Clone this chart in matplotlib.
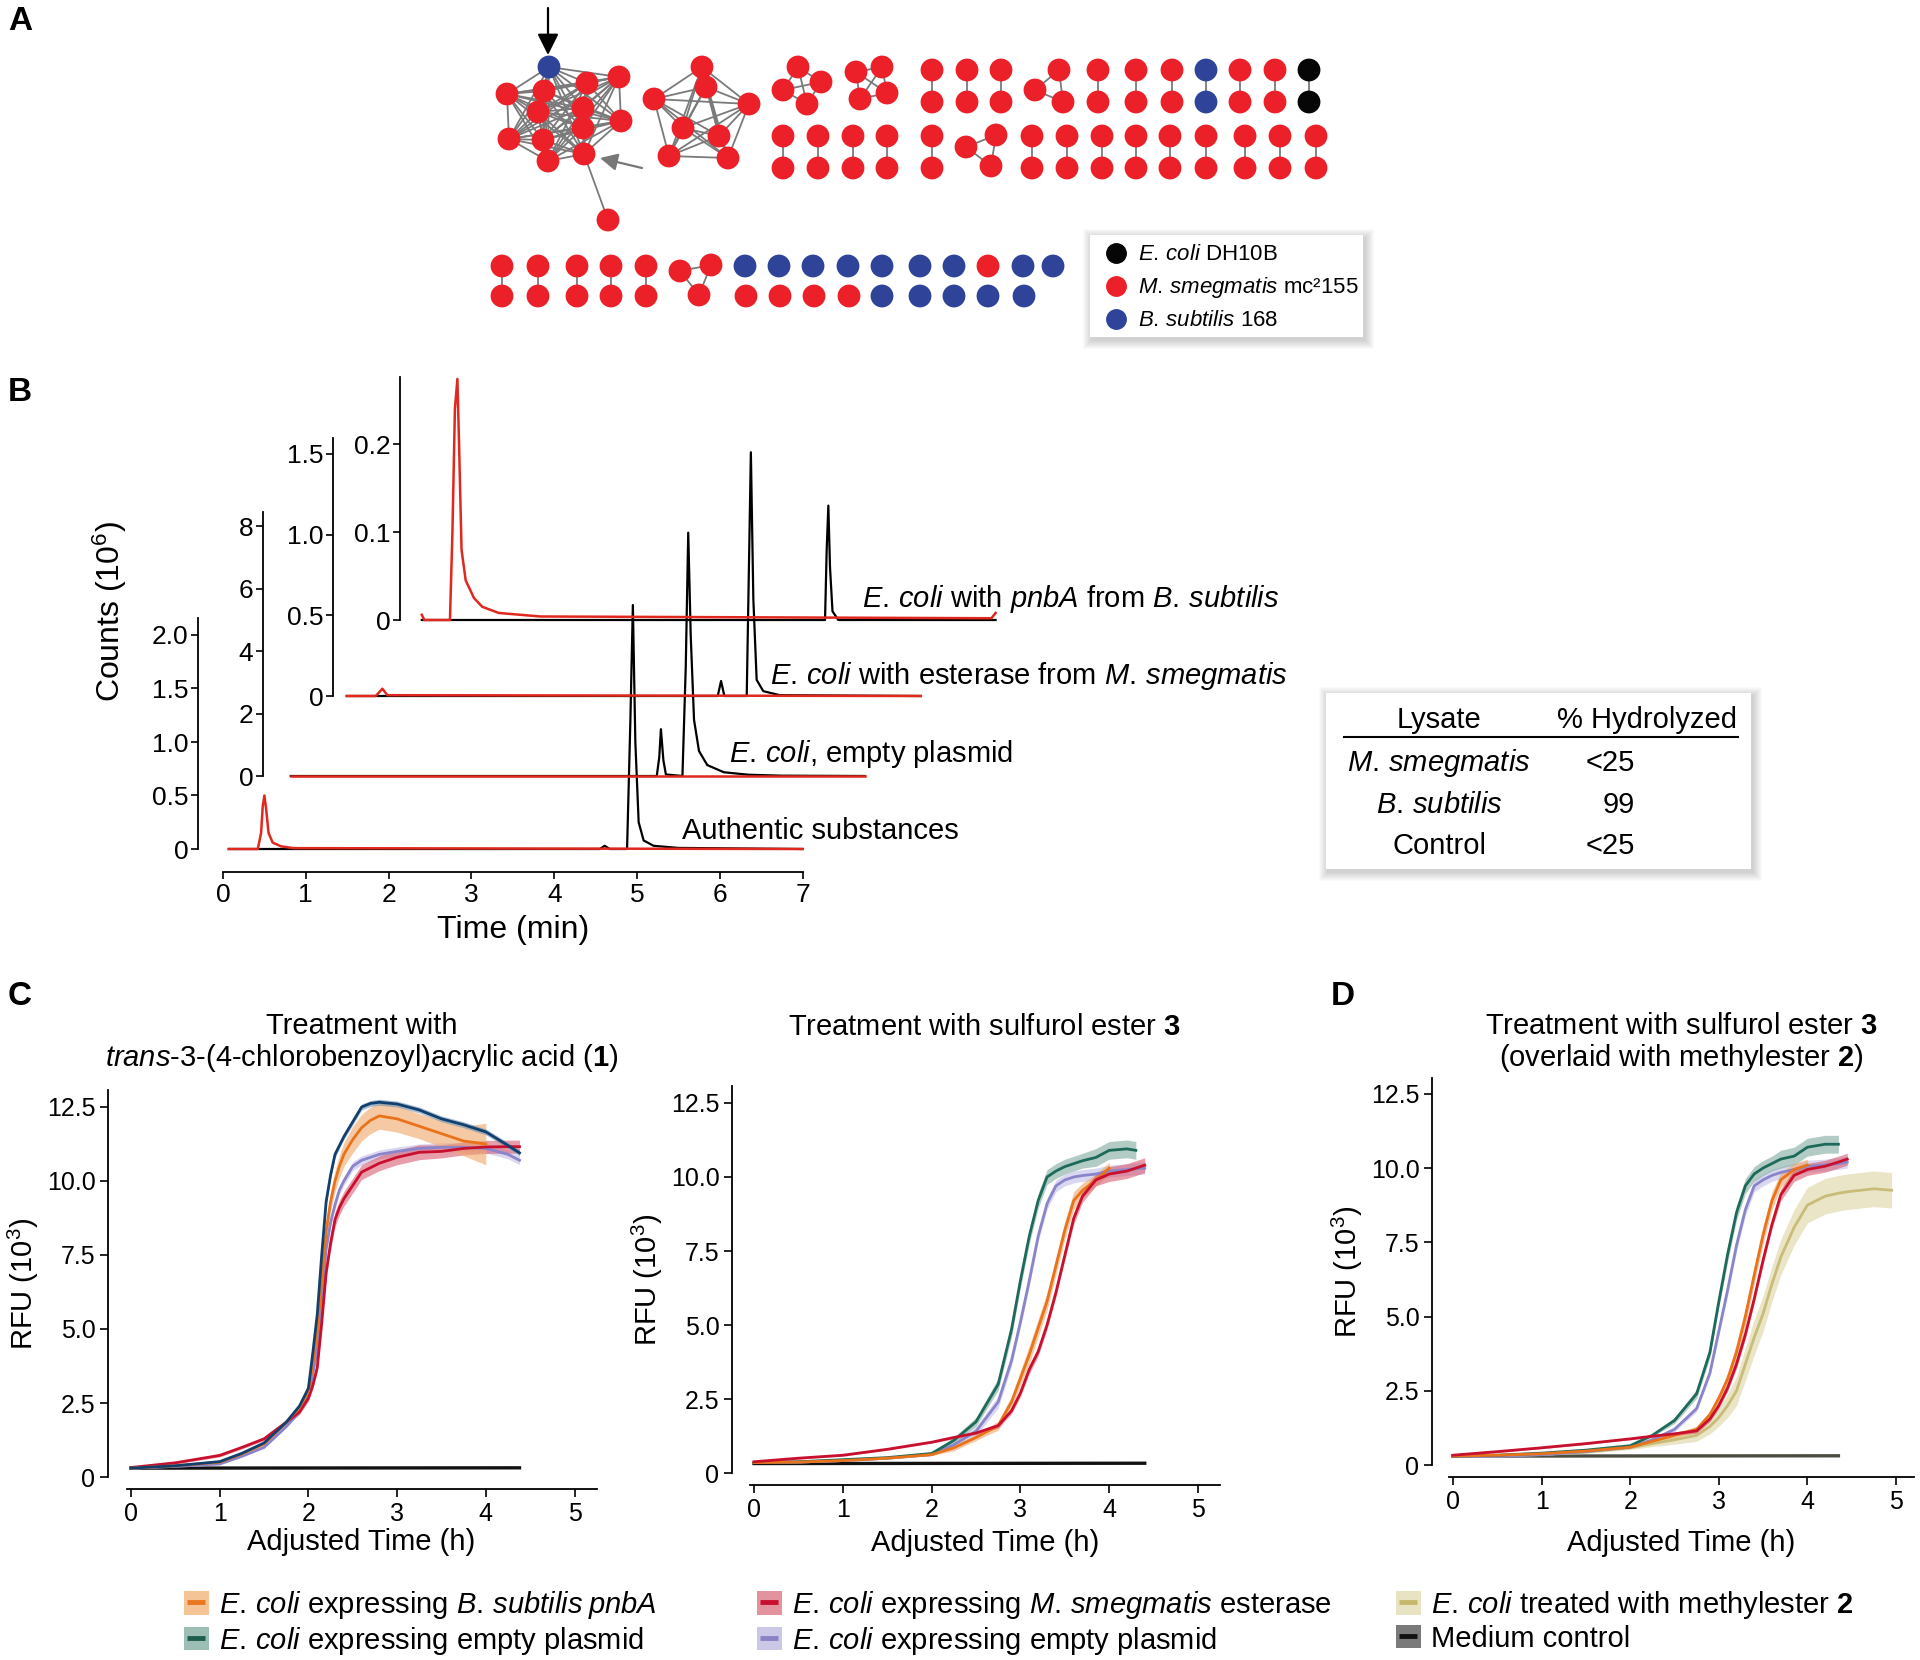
import matplotlib
matplotlib.use('Agg')
import matplotlib.pyplot as plt
import numpy as np
from itertools import combinations
from matplotlib.lines import Line2D
from matplotlib.patches import Patch, Rectangle
from matplotlib.collections import LineCollection

plt.rcParams['font.family'] = 'Liberation Sans'
plt.rcParams['mathtext.fontset'] = 'custom'
plt.rcParams['mathtext.rm'] = 'Liberation Sans'
plt.rcParams['mathtext.it'] = 'Liberation Sans:italic'
plt.rcParams['mathtext.bf'] = 'Liberation Sans:bold'
plt.rcParams['axes.linewidth'] = 1.3

# ---------------- panel A: similarity network (layout positions) ----------------
RED, BLUE, BLACK = '#EC2028', '#2F4499', '#060606'
ncol = {'r': RED, 'b': BLUE, 'k': BLACK}

big_nodes = [(549, 67), (507, 94), (544, 91), (587, 83), (619, 77), (538, 112), (583, 108),
             (621, 121), (583, 128), (509, 139), (543, 140), (548, 161), (584, 154)]
big_colors = 'brrrrrrrrrrrr'
pendant_node = (608, 220)
ring_nodes = [(702, 67), (706, 87), (654, 99), (749, 104), (683, 128), (719, 136), (669, 156), (728, 158)]
quad_nodes = [[(798, 67), (783, 90), (821, 82), (807, 104)],
              [(856, 72), (882, 67), (860, 99), (887, 93)]]
tri_nodes = [[(1059, 70), (1035, 90), (1063, 102)],
             [(996, 135), (966, 147), (991, 166)],
             [(680, 271), (711, 265), (699, 295)]]
pair_row1_x = [932, 967, 1001, 1098, 1136, 1172, 1206, 1240, 1275, 1309]
pair_row1_c = 'rrrrrrbrrk'
pair_row2_x = [783, 818, 853, 887, 932, 1032, 1067, 1102, 1136, 1170, 1206, 1245, 1280, 1316]
pair_row2_c = 'rrrrrrrrrrrrrr'
pair_row3_x = [502, 538, 577, 611, 646]
pair_row3_c = 'rrrrr'
pair_rows_y = [(70, 102), (136, 168), (266, 296)]
single_top_x = [745, 779, 813, 848, 882, 920, 954, 988, 1023, 1053]
single_top_c = 'bbbbbbbrbb'
single_bot_x = [746, 780, 814, 849, 882, 920, 954, 988, 1024]
single_bot_c = 'rrrrbbbbb'

# ---------------- panel B: chromatograms (time min, counts 1e6) ----------------
auth_black_t = [0.07, 4.55, 4.61, 4.67, 4.88, 4.92, 4.95, 4.98, 5.02, 5.08, 5.2, 5.5, 7.0]
auth_black_v = [0, 0, 0.03, 0, 0, 1.2, 2.28, 1.0, 0.25, 0.08, 0.03, 0.01, 0]
auth_red_t = [0.07, 0.42, 0.46, 0.48, 0.5, 0.52, 0.55, 0.6, 0.7, 0.85, 7.0]
auth_red_v = [0, 0, 0.15, 0.4, 0.5, 0.38, 0.15, 0.06, 0.025, 0.008, 0]
empty_black_t = [0.07, 4.49, 4.52, 4.54, 4.57, 4.6, 4.8, 4.84, 4.87, 4.9, 4.94, 5.0, 5.1, 5.3, 5.6, 6.0, 7.0]
empty_black_v = [0, 0, 0.6, 1.5, 0.5, 0.05, 0, 3.5, 7.8, 4.5, 1.8, 0.8, 0.35, 0.12, 0.04, 0.01, 0]
empty_red_t = [0.07, 7.0]
empty_red_v = [0, 0]
ester_black_t = [0.07, 4.55, 4.59, 4.63, 4.9, 4.93, 4.95, 4.98, 5.02, 5.1, 5.3, 7.0]
ester_black_v = [0, 0, 0.093, 0, 0, 0.9, 1.51, 0.6, 0.1, 0.03, 0.005, 0]
ester_red_t = [0.07, 0.42, 0.5, 0.56, 7.0]
ester_red_v = [0, 0, 0.045, 0.005, 0]
pnba_black_t = [0.07, 4.94, 4.96, 4.98, 5.0, 5.03, 5.1, 7.0]
pnba_black_v = [0, 0, 0.08, 0.13, 0.06, 0.01, 0, 0]
pnba_red_t = [0.07, 0.1, 0.41, 0.44, 0.47, 0.5, 0.52, 0.55, 0.6, 0.7, 0.8, 1.0, 1.5, 6.95, 7.0]
pnba_red_v = [0.006, 0, 0, 0.1, 0.24, 0.274, 0.2, 0.08, 0.045, 0.025, 0.015, 0.008, 0.004, 0.002, 0.008]

trace_names = ['Authentic substances',
               r'$\mathit{E.\,coli}$, empty plasmid',
               r'$\mathit{E.\,coli}$ with esterase from $\mathit{M.\,smegmatis}$',
               r'$\mathit{E.\,coli}$ with $\mathit{pnbA}$ from $\mathit{B.\,subtilis}$']
trace_ticks = [[0, 0.5, 1.0, 1.5, 2.0], [0, 2, 4, 6, 8], [0, 0.5, 1.0, 1.5], [0, 0.1, 0.2]]
trace_ticklabels = [['0', '0.5', '1.0', '1.5', '2.0'], ['0', '2', '4', '6', '8'],
                    ['0', '0.5', '1.0', '1.5'], ['0', '0.1', '0.2']]

# hydrolysis table
lysates = [r'$\mathit{M.\,smegmatis}$', r'$\mathit{B.\,subtilis}$', 'Control']
hydrolyzed = ['<25', '99', '<25']

# ---------------- panels C / D: fluorescence (RFU 1e3 vs h) ----------------
c1_t = [0, 0.5, 1.0, 1.25, 1.5, 1.75, 1.9, 2.0, 2.05, 2.1, 2.15, 2.2, 2.25, 2.3, 2.35, 2.4, 2.5, 2.6, 2.7,
        2.8, 3.0, 3.25, 3.5, 3.75, 4.0, 4.25, 4.38]
c1_navy = [.30, .38, .52, .80, 1.15, 1.85, 2.4, 3.0, 4.2, 5.5, 7.5, 9.3, 10.2, 10.9, 11.2, 11.5, 12.0, 12.5,
           12.62, 12.66, 12.6, 12.4, 12.1, 11.9, 11.66, 11.2, 10.95]
c1_navy_sd = [.03, .03, .03, .03, .03, .03, .05, .08, .1, .1, .12, .12, .12, .12, .1, .1, .1, .1, .1, .1,
              .1, .1, .1, .1, .1, .1, .1]
c1_orange = [.30, .38, .50, .78, 1.12, 1.85, 2.35, 2.9, 3.8, 4.9, 6.6, 8.3, 9.3, 10.0, 10.5, 10.9, 11.4, 11.8,
             12.05, 12.2, 12.1, 11.85, 11.6, 11.35, 11.25]
c1_orange_sd = [.03, .03, .03, .04, .05, .08, .1, .15, .2, .25, .28, .3, .32, .35, .38, .4, .45, .45, .45,
                .45, .45, .42, .45, .5, .7]
c1_lav = [.30, .36, .44, .70, 1.0, 1.7, 2.2, 2.8, 3.5, 4.3, 6.0, 7.7, 8.6, 9.2, 9.7, 10.0, 10.5, 10.7, 10.8,
          10.9, 11.0, 11.1, 11.14, 11.14, 11.1, 10.9, 10.7]
c1_lav_sd = [.03, .03, .03, .03, .03, .03, .05, .08, .1, .12, .15, .15, .15, .15, .15, .15, .15, .15, .15,
             .15, .15, .15, .15, .15, .15, .15, .15]
c1_red = [.32, .48, .73, 1.0, 1.29, 1.85, 2.2, 2.66, 3.1, 3.7, 5.2, 6.9, 7.9, 8.7, 9.1, 9.4, 9.85, 10.3, 10.45,
          10.6, 10.8, 10.97, 11.0, 11.1, 11.15, 11.16, 11.16]
c1_red_sd = [.03, .04, .05, .05, .06, .08, .09, .1, .12, .15, .18, .2, .22, .25, .25, .25, .25, .25, .25,
             .25, .25, .25, .22, .22, .22, .22, .22]

c2_t = [0, 0.5, 1.0, 1.5, 2.0, 2.25, 2.5, 2.75, 2.9, 3.0, 3.1, 3.2, 3.3, 3.4, 3.5, 3.6, 3.7, 3.85, 4.0, 4.2,
        4.3, 4.4]
c2_teal = [.35, .38, .45, .52, .66, 1.1, 1.73, 3.0, 4.85, 6.5, 8.0, 9.2, 10.0, 10.2, 10.35, 10.45, 10.55,
           10.66, 10.9, 10.95, 10.9]
c2_teal_sd = [.03, .03, .03, .03, .03, .1, .15, .2, .25, .25, .25, .25, .25, .25, .25, .25, .25, .3, .3,
              .3, .3]
c2_lav = [.35, .37, .42, .50, .62, .95, 1.41, 2.4, 3.8, 5.1, 6.5, 8.0, 9.1, 9.7, 9.9, 10.0, 10.05, 10.1,
          10.2, 10.25, 10.28, 10.3]
c2_lav_sd = [.03, .03, .03, .03, .03, .1, .15, .2, .2, .2, .2, .2, .2, .2, .2, .2, .2, .2, .2, .2, .2, .2]
c2_orange = [.35, .37, .42, .50, .62, .85, 1.2, 1.6, 2.4, 3.2, 4.0, 4.9, 5.8, 7.0, 8.2, 9.2, 9.55, 9.9, 10.3]
c2_orange_sd = [.03, .03, .03, .03, .03, .1, .1, .15, .2, .25, .3, .3, .3, .3, .3, .3, .25, .2, .2]
c2_red = [.38, .50, .60, .80, 1.04, 1.2, 1.35, 1.6, 2.1, 2.7, 3.5, 4.1, 5.0, 6.1, 7.35, 8.6, 9.35, 9.9,
          10.1, 10.2, 10.3, 10.4]
c2_red_sd = [.03, .03, .03, .03, .03, .05, .05, .08, .1, .12, .15, .15, .15, .15, .15, .2, .2, .2, .25, .25,
             .25, .25]

d_t = [0, 0.5, 1.0, 1.5, 2.0, 2.25, 2.5, 2.75, 2.9, 3.0, 3.1, 3.2, 3.3, 3.4, 3.5, 3.6, 3.7, 3.85, 4.0, 4.2,
       4.35, 4.45, 4.6, 4.75, 4.95]
d_teal = [.30, .33, .40, .50, .65, 1.0, 1.5, 2.4, 3.8, 5.5, 7.1, 8.5, 9.4, 9.8, 10.0, 10.15, 10.3, 10.4,
          10.7, 10.8, 10.8]
d_teal_sd = [.03, .03, .03, .03, .03, .05, .1, .15, .18, .2, .25, .25, .25, .25, .25, .25, .3, .3, .3, .3, .3]
d_lav = [.28, .30, .35, .45, .60, .85, 1.2, 1.9, 3.1, 4.5, 5.9, 7.4, 8.6, 9.4, 9.6, 9.75, 9.85, 9.95, 10.06,
         10.1, 10.15, 10.2]
d_lav_sd = [.03, .03, .03, .03, .03, .05, .08, .1, .12, .15, .2, .2, .2, .2, .2, .2, .2, .2, .2, .2, .2, .2]
d_orange = [.30, .33, .38, .47, .60, .80, 1.0, 1.2, 1.7, 2.25, 2.9, 3.8, 5.0, 6.4, 7.75, 8.9, 9.6, 9.95, 10.1]
d_orange_sd = [.03, .03, .03, .03, .03, .05, .08, .1, .12, .15, .2, .3, .3, .3, .3, .3, .25, .2, .2]
d_red = [.33, .45, .58, .72, .88, .97, 1.05, 1.15, 1.55, 2.0, 2.6, 3.4, 4.4, 5.6, 6.9, 8.1, 9.1, 9.75, 9.95,
         10.06, 10.2, 10.3]
d_red_sd = [.03, .03, .03, .03, .03, .05, .05, .08, .09, .1, .12, .15, .15, .15, .15, .15, .2, .2, .2, .2,
            .2, .2]
d_olive = [.30, .32, .36, .44, .58, .72, .85, 1.0, 1.3, 1.6, 2.0, 2.5, 3.4, 4.3, 5.1, 6.1, 7.0, 8.0, 8.75,
           9.05, 9.15, 9.2, 9.25, 9.3, 9.25]
d_olive_sd = [.03, .03, .04, .05, .06, .1, .15, .2, .25, .3, .4, .5, .55, .6, .6, .6, .6, .6, .6, .6, .6,
              .6, .6, .6, .6]
medium_t = [[0, 4.38], [0, 4.4], [0, 4.35]]
medium_v = [[0.30, 0.31], [0.32, 0.33], [0.30, 0.31]]

# colours (line, band)
COL = {'orange': ('#E8731A', '#F1A66A'), 'red': ('#C8102E', '#D95C72'), 'olive': ('#C8BC78', '#DCD5A2'),
       'teal': ('#1D6A5A', '#80AA9F'), 'lav': ('#8A84CA', '#C2BEE6'), 'navy': ('#11406E', '#7090B2'),
       'medium': ('#111111', '#777777')}

W, H = 1920, 1660


def box(x0, y0, x1, y1):
    return [x0 / W, 1 - y1 / H, (x1 - x0) / W, (y1 - y0) / H]


fig = plt.figure(figsize=(19.2, 16.6), dpi=100)
bg = fig.add_axes([0, 0, 1, 1], zorder=-5)
bg.set_xlim(0, W)
bg.set_ylim(H, 0)
bg.axis('off')


def shadow_box(x0, y0, x1, y1):
    for k in range(9, 0, -1):
        bg.add_patch(Rectangle((x0 - k + 2, y0 - k + 3), x1 - x0 + 2 * k, y1 - y0 + 2 * k,
                               facecolor='k', edgecolor='none', alpha=0.02))
    bg.add_patch(Rectangle((x0, y0), x1 - x0, y1 - y0, facecolor='white', edgecolor='none'))


for lab, x, y in [('A', 8, 21), ('B', 8, 392), ('C', 8, 996), ('D', 1331, 996)]:
    bg.text(x, y, lab, fontsize=24, fontweight='bold', ha='left', va='center')

# ---------------- A ----------------
axn = fig.add_axes(box(470, 0, 1390, 345))
axn.set_xlim(470, 1390)
axn.set_ylim(345, 0)
axn.axis('off')

pts, cols, segs = [], [], []
pts += big_nodes + [pendant_node]
cols += list(big_colors) + ['r']
segs += list(combinations(big_nodes, 2)) + [(big_nodes[12], pendant_node)]
pts += ring_nodes
cols += ['r'] * len(ring_nodes)
segs += list(combinations(ring_nodes, 2))
for grp in quad_nodes + tri_nodes:
    pts += grp
    cols += ['r'] * len(grp)
    segs += list(combinations(grp, 2))
for xs, cs, (ya, yb) in zip([pair_row1_x, pair_row2_x, pair_row3_x], [pair_row1_c, pair_row2_c, pair_row3_c],
                            pair_rows_y):
    for x, c in zip(xs, cs):
        pts += [(x, ya), (x, yb)]
        cols += [c, c]
        segs.append(((x, ya), (x, yb)))
for x, c in zip(single_top_x, single_top_c):
    pts.append((x, 266))
    cols.append(c)
for x, c in zip(single_bot_x, single_bot_c):
    pts.append((x, 296))
    cols.append(c)

axn.add_collection(LineCollection(segs, colors='#7a7a7a', linewidths=1.3, zorder=1))
pts = np.array(pts)
axn.scatter(pts[:, 0], pts[:, 1], s=270, c=[ncol[c] for c in cols], edgecolors='none', zorder=2)
axn.annotate('', xy=(548, 55), xytext=(548, 8),
             arrowprops=dict(arrowstyle='-|>', color='k', lw=1.6, mutation_scale=32, shrinkA=0, shrinkB=0))
axn.annotate('', xy=(600, 158), xytext=(642, 168),
             arrowprops=dict(arrowstyle='-|>', color='#777777', lw=1.6, mutation_scale=26, shrinkA=0, shrinkB=0))

shadow_box(1090, 235, 1363, 337)
hA = [Line2D([], [], ls='none', marker='o', ms=14, mfc=c, mec=c) for c in (BLACK, RED, BLUE)]
fig.legend(hA, [r'$\mathit{E.\,coli}$ DH10B', r'$\mathit{M.\,smegmatis}$ mc²155', r'$\mathit{B.\,subtilis}$ 168'],
           loc='upper left', bbox_to_anchor=(1100 / W, 1 - 240 / H), frameon=False, fontsize=16,
           handlelength=1.0, handletextpad=0.5, labelspacing=0.45, borderpad=0.2, borderaxespad=0)

# ---------------- B ----------------
tpx = 82.8
zero_x = [223, 285, 341, 416]
zero_y = [849, 776, 696, 620]
top_y = [618, 512, 438, 377]
ppu = [107, 31.2, 161.4, 880]
spine_x = [198, 263, 333, 400]
label_xy = [(682, 831), (729, 754), (770, 676), (862, 599)]
black_data = [(auth_black_t, auth_black_v), (empty_black_t, empty_black_v),
              (ester_black_t, ester_black_v), (pnba_black_t, pnba_black_v)]
red_data = [(auth_red_t, auth_red_v), (empty_red_t, empty_red_v),
            (ester_red_t, ester_red_v), (pnba_red_t, pnba_red_v)]

for i in range(4):
    ax = fig.add_axes(box(zero_x[i], top_y[i], zero_x[i] + 7 * tpx, zero_y[i]))
    ax.set_facecolor('none')
    ax.set_xlim(0, 7)
    ax.set_ylim(0, (zero_y[i] - top_y[i]) / ppu[i])
    for s in ('top', 'right'):
        ax.spines[s].set_visible(False)
    ax.spines['left'].set_position(('outward', (zero_x[i] - spine_x[i]) * 0.72))
    ax.set_yticks(trace_ticks[i])
    ax.set_yticklabels(trace_ticklabels[i])
    ax.tick_params(axis='y', labelsize=19, length=5, width=1.2, pad=2)
    if i == 0:
        ax.spines['bottom'].set_position(('outward', 23 * 0.72))
        ax.set_xticks(range(8))
        ax.tick_params(axis='x', labelsize=19, length=5, width=1.2, pad=3)
        ax.set_xlabel('Time (min)', fontsize=23, labelpad=6)
    else:
        ax.spines['bottom'].set_visible(False)
        ax.set_xticks([])
    bt, bv = black_data[i]
    rt, rv = red_data[i]
    ax.plot(bt, bv, color='k', lw=1.6, clip_on=False, zorder=3)
    ax.plot(rt, rv, color='#E0281E', lw=1.8, clip_on=False, zorder=4)
    bg.text(label_xy[i][0], label_xy[i][1], trace_names[i], fontsize=21, ha='left', va='center')

bg.text(110, 612, r'Counts ($10^{6}$)', fontsize=23, rotation=90, ha='center', va='center')

# table
shadow_box(1326, 693, 1751, 869)
bg.text(1439, 720, 'Lysate', fontsize=21, ha='center', va='center')
bg.text(1647, 720, '% Hydrolyzed', fontsize=21, ha='center', va='center')
bg.plot([1344, 1738], [737, 737], color='k', lw=1.5)
for k, (lys, hyd) in enumerate(zip(lysates, hydrolyzed)):
    y = 763 + k * 41.5
    bg.text(1439, y, lys, fontsize=21, ha='center', va='center')
    bg.text(1635, y, hyd, fontsize=21, ha='right', va='center')

# ---------------- C / D ----------------
rfu_zero_x = [131, 754, 1453]
rfu_zero_y = [1477, 1473, 1465]
rfu_pxh = [88.7, 88.8, 88.6]
rfu_ppu = [29.6, 29.6, 29.7]
rfu_top = [1090, 1086, 1078]
rfu_spine_x = [108, 732, 1432]
rfu_xmax = [5.25, 5.25, 5.2]
xlabel_pad = [2, 5.5, 11]

panels = [
    [(c1_t, c1_lav, c1_lav_sd, 'lav'), (c1_t, c1_red, c1_red_sd, 'red'),
     (c1_t, c1_orange, c1_orange_sd, 'orange'), (c1_t, c1_navy, c1_navy_sd, 'navy')],
    [(c2_t, c2_lav, c2_lav_sd, 'lav'), (c2_t, c2_teal, c2_teal_sd, 'teal'),
     (c2_t, c2_orange, c2_orange_sd, 'orange'), (c2_t, c2_red, c2_red_sd, 'red')],
    [(d_t, d_olive, d_olive_sd, 'olive'), (d_t, d_lav, d_lav_sd, 'lav'), (d_t, d_teal, d_teal_sd, 'teal'),
     (d_t, d_orange, d_orange_sd, 'orange'), (d_t, d_red, d_red_sd, 'red')],
]
titles = ['Treatment with\n' + r'$\mathit{trans}$-3-(4-chlorobenzoyl)acrylic acid ($\mathbf{1}$)',
          r'Treatment with sulfurol ester $\mathbf{3}$',
          r'Treatment with sulfurol ester $\mathbf{3}$' + '\n' + r'(overlaid with methylester $\mathbf{2}$)']
title_y = [1043, 1027, 1043]
medium_col = ['#111111', '#111111', '#4a4d40']

for p in range(3):
    x0, pxh = rfu_zero_x[p], rfu_pxh[p]
    left = x0 - 0.05 * pxh
    right = x0 + rfu_xmax[p] * pxh
    ax = fig.add_axes(box(left, rfu_top[p], right, rfu_zero_y[p]))
    ax.set_facecolor('none')
    ax.set_xlim(-0.05, rfu_xmax[p])
    ax.set_ylim(0, (rfu_zero_y[p] - rfu_top[p]) / rfu_ppu[p])
    for s in ('top', 'right'):
        ax.spines[s].set_visible(False)
    ax.spines['left'].set_position(('outward', (left - rfu_spine_x[p]) * 0.72))
    ax.spines['bottom'].set_position(('outward', 12 * 0.72))
    ax.set_yticks([0, 2.5, 5, 7.5, 10, 12.5])
    ax.set_yticklabels(['0', '2.5', '5.0', '7.5', '10.0', '12.5'])
    ax.set_xticks(range(6))
    ax.tick_params(labelsize=18, length=6, width=1.2, pad=3)
    ax.set_xlabel('Adjusted Time (h)', fontsize=21, labelpad=xlabel_pad[p])
    ax.set_ylabel(r'RFU ($10^{3}$)', fontsize=21, labelpad=4)
    ax.plot(medium_t[p], medium_v[p], color=medium_col[p], lw=2.4, zorder=2)
    for t, v, sd, key in panels[p]:
        n = len(v)
        tt = np.array(t[:n])
        vv = np.array(v)
        ss = np.array(sd)
        line_c, band_c = COL[key]
        ax.fill_between(tt, vv - ss, vv + ss, color=band_c, alpha=0.6, lw=0, zorder=3)
        ax.plot(tt, vv, color=line_c, lw=2.0, zorder=4)
    bg.text((left + right) / 2, title_y[p], titles[p], fontsize=21, ha='center', va='center', linespacing=1.05)

# bottom legends
leg_entries = [
    [('orange', r'$\mathit{E.\,coli}$ expressing $\mathit{B.\,subtilis\;pnbA}$', '#F4C396', '#E8771E'),
     ('teal', r'$\mathit{E.\,coli}$ expressing empty plasmid', '#9DBEB5', '#1D5E50')],
    [('red', r'$\mathit{E.\,coli}$ expressing $\mathit{M.\,smegmatis}$ esterase', '#E2939E', '#C8102E'),
     ('lav', r'$\mathit{E.\,coli}$ expressing empty plasmid', '#CAC7E7', '#8A82C4')],
    [('olive', r'$\mathit{E.\,coli}$ treated with methylester $\mathbf{2}$', '#E7E3C3', '#C6B76C'),
     ('medium', 'Medium control', '#7A7A7A', '#111111')],
]
leg_x = [184, 757, 1396]
for lx, entries in zip(leg_x, leg_entries):
    handles = [(Patch(facecolor=fc, edgecolor='none'),
                Line2D([], [], ls='none', marker='_', ms=13, mew=3.5, color=lc)) for _, _, fc, lc in entries]
    labels = [e[1] for e in entries]
    fig.legend(handles, labels, loc='upper left', bbox_to_anchor=(lx / W, 1 - 1589 / H), frameon=False,
               fontsize=21, handlelength=0.85, handleheight=0.85, handletextpad=0.35, labelspacing=0.12,
               borderpad=0, borderaxespad=0)

fig.savefig('out.png', dpi=100)
